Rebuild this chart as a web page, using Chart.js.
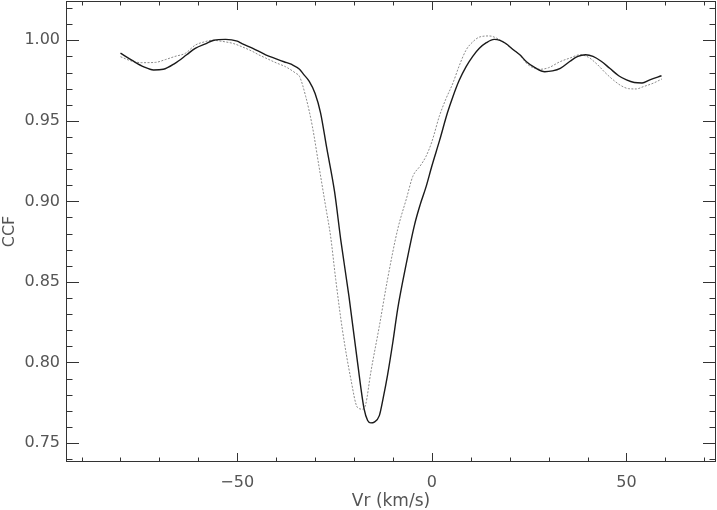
<!DOCTYPE html>
<html>
<head>
<meta charset="utf-8">
<script src="https://cdn.jsdelivr.net/npm/chart.js@4/dist/chart.umd.min.js"></script>
<style>
  html, body { margin: 0; padding: 0; background: #fff; }
  #wrap { width: 717px; height: 510px; }
</style>
</head>
<body>
<div id="wrap"><canvas id="chart" width="717" height="510"></canvas></div>
<script>
// Solid curve
const solidVr = [-80, -77, -74, -71.5, -69, -66, -63, -60.8, -58, -56, -53, -50, -48.8, -46, -42.7, -40, -38, -36, -34, -33,
  -31.5, -30, -28.6, -27, -25, -23.4, -21.3, -19.1, -17.4, -16.5, -15.7, -14.8, -13.5, -12.5, -11.4, -10, -8.8, -6.6, -4.5, -3,
  -1.5, 0, 2, 4, 5.4, 7, 8.8, 10.5, 12.2, 14, 16, 17.5, 19, 21, 22.6, 24.3, 26.5, 29, 31, 33,
  35.5, 37.5, 39.5, 41.4, 43.5, 45.7, 48, 50, 52, 54, 56, 59];
const solidCcf = [0.992, 0.9875, 0.9835, 0.9816, 0.982, 0.9857, 0.991, 0.995, 0.998, 1.0, 1.0006, 0.9995, 0.998, 0.995, 0.991, 0.9885, 0.9867, 0.985, 0.982, 0.979,
  0.9745, 0.967, 0.955, 0.933, 0.906, 0.876, 0.841, 0.800, 0.771, 0.764, 0.7625, 0.763, 0.767, 0.778, 0.792, 0.813, 0.833, 0.861, 0.885, 0.898,
  0.909, 0.922, 0.938, 0.955, 0.965, 0.975, 0.9836, 0.990, 0.995, 0.9985, 1.0006, 1.0, 0.998, 0.994, 0.991, 0.9867, 0.983, 0.9805, 0.981, 0.9826,
  0.987, 0.990, 0.991, 0.990, 0.987, 0.9826, 0.978, 0.9754, 0.9738, 0.9735, 0.9754, 0.978];

// Dotted curve
const dottedVr = [-80, -77, -74.5, -71, -68.5, -66, -63.3, -60.8, -58.5, -56.5, -53, -51, -48.8, -46, -44.5, -42.7, -40, -37.6, -35, -34,
  -32.4, -30.7, -29, -27.3, -26, -24.7, -23, -20.8, -19.1, -17.8, -17, -15.7, -13.5, -11.4, -8.8, -6.5, -4.9, -3, -1.5, 0,
  1.9, 3.5, 5.4, 7, 8.8, 10.5, 12.2, 14.8, 16.5, 18.2, 20.5, 22.6, 24.3, 26, 27.7, 30, 32.9, 35.5, 38, 40.2,
  42.5, 44.5, 46.6, 48.5, 50.5, 52.5, 54.3, 57, 59.1];
const dottedCcf = [0.9898, 0.987, 0.9861, 0.9863, 0.988, 0.990, 0.992, 0.997, 0.999, 1.0, 0.999, 0.998, 0.996, 0.993, 0.991, 0.989, 0.986, 0.9836, 0.9796, 0.9775,
  0.965, 0.9465, 0.9217, 0.897, 0.878, 0.8515, 0.8205, 0.7895, 0.772, 0.771, 0.774, 0.7937, 0.8225, 0.8515, 0.8825, 0.902, 0.9155, 0.922, 0.928, 0.937,
  0.9527, 0.963, 0.9734, 0.984, 0.994, 0.999, 1.002, 1.0027, 1.0015, 0.9991, 0.995, 0.991, 0.9857, 0.983, 0.982, 0.983, 0.9867, 0.989, 0.991, 0.9895,
  0.985, 0.980, 0.9754, 0.972, 0.970, 0.9698, 0.9712, 0.9735, 0.976];

// Axes
const xRange = [-94, 73];
const yRange = [0.7382, 1.0244];
const xTickValues = [-50, 0, 50];
const yTickValues = [0.75, 0.80, 0.85, 0.90, 0.95, 1.00];
const xTitle = 'Vr (km/s)';
const yTitle = 'CCF';

const toPoints = (xs, ys) => xs.map((v, i) => ({ x: v, y: ys[i] }));

// IDL-style frame: box with inward ticks on all four sides
const frameTicks = {
  id: 'frameTicks',
  afterDraw(chart) {
    const { ctx, chartArea: a, scales: { x, y } } = chart;
    ctx.save();
    ctx.strokeStyle = '#333';
    ctx.lineWidth = 1;
    ctx.strokeRect(a.left + 0.5, a.top + 0.5, a.right - a.left - 1, a.bottom - a.top - 1);
    ctx.beginPath();
    for (let v = -90; v <= 70; v += 10) {
      const px = Math.round(x.getPixelForValue(v)) + 0.5;
      const len = v % 50 === 0 ? 9 : 4.5;
      ctx.moveTo(px, a.bottom); ctx.lineTo(px, a.bottom - len);
      ctx.moveTo(px, a.top); ctx.lineTo(px, a.top + len);
    }
    for (let i = 74; i <= 102; i++) {
      const py = Math.round(y.getPixelForValue(i / 100)) + 0.5;
      const len = i % 5 === 0 ? 13 : 6.5;
      ctx.moveTo(a.left, py); ctx.lineTo(a.left + len, py);
      ctx.moveTo(a.right, py); ctx.lineTo(a.right - len, py);
    }
    ctx.stroke();
    ctx.restore();
  }
};

// pin the plot box: no extra room for end labels
const noPad = s => { s.paddingTop = 0; s.paddingBottom = 0; s.paddingLeft = 0; s.paddingRight = 0; };

const labelFont = { family: 'DejaVu Sans', size: 16 };

new Chart(document.getElementById('chart'), {
  type: 'line',
  data: {
    datasets: [
      {
        data: toPoints(solidVr, solidCcf),
        borderColor: '#1a1a1a',
        borderWidth: 1.4,
        pointRadius: 0,
        cubicInterpolationMode: 'monotone'
      },
      {
        data: toPoints(dottedVr, dottedCcf),
        borderColor: '#8a8a8a',
        borderWidth: 1,
        borderDash: [2, 1.5],
        pointRadius: 0,
        cubicInterpolationMode: 'monotone'
      }
    ]
  },
  options: {
    responsive: false,
    animation: false,
    devicePixelRatio: 1,
    layout: { padding: { top: 1, right: 1, left: 0, bottom: 0 } },
    plugins: { legend: { display: false }, tooltip: { enabled: false } },
    scales: {
      x: {
        type: 'linear',
        min: xRange[0],
        max: xRange[1],
        grid: { display: false, drawTicks: false },
        border: { display: false },
        afterBuildTicks: s => { s.ticks = xTickValues.map(v => ({ value: v })); },
        afterFit: s => { s.height = 48; noPad(s); },
        ticks: {
          color: '#555',
          font: labelFont,
          padding: 11,
          maxRotation: 0,
          callback: v => (v < 0 ? '\u2212' + Math.abs(v) : String(v))
        },
        title: { display: true, text: xTitle, color: '#555', font: { family: 'DejaVu Sans', size: 17 }, padding: { top: 0, bottom: -2 } }
      },
      y: {
        min: yRange[0],
        max: yRange[1],
        grid: { display: false, drawTicks: false },
        border: { display: false },
        afterBuildTicks: s => { s.ticks = yTickValues.map(v => ({ value: v })); },
        afterFit: s => { s.width = 66; noPad(s); },
        ticks: {
          color: '#555',
          font: labelFont,
          padding: 6,
          callback: v => v.toFixed(2)
        },
        title: { display: true, text: yTitle, color: '#555', font: { family: 'DejaVu Sans', size: 16 }, padding: { top: 0, bottom: 0 } }
      }
    }
  },
  plugins: [frameTicks]
});
</script>
</body>
</html>
